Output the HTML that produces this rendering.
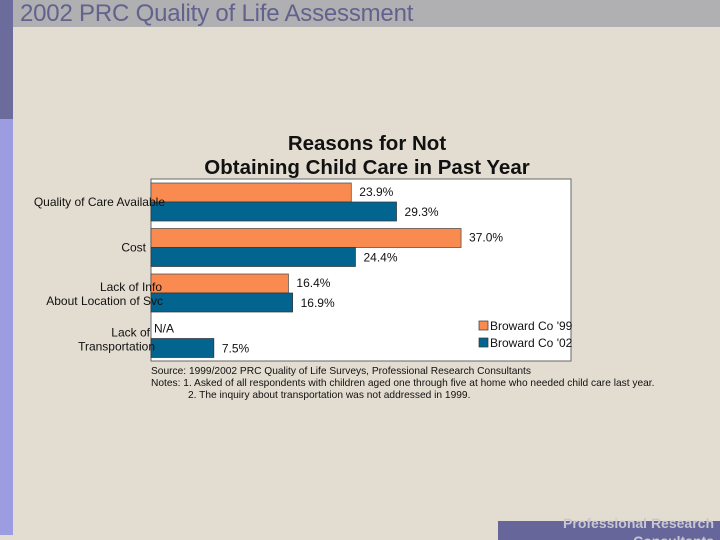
<!DOCTYPE html>
<html><head><meta charset="utf-8"><style>
html,body{margin:0;width:720px;height:540px;overflow:hidden}
body{background:#e3ddd1;font-family:"Liberation Sans",sans-serif;position:relative}
.abs{position:absolute}
</style></head><body>
<div class="abs" style="left:0;top:0;width:13px;height:119px;background:#6c6c9c"></div>
<div class="abs" style="left:0;top:119px;width:13px;height:416px;background:#9c9ce0"></div>
<div class="abs" style="left:13px;top:0;width:707px;height:27px;background:#b0afb2"></div>
<div class="abs" style="left:20px;top:0px;font-size:24px;line-height:28px;color:#62628e;letter-spacing:-0.2px">2002 PRC Quality of Life Assessment</div>
<div class="abs" style="left:498px;top:521px;width:222px;height:19px;background:#66669a"></div>
<div class="abs" style="left:498px;top:514px;width:216px;text-align:right;font-size:14px;font-weight:bold;color:#c9c7cf;line-height:18px">Professional Research<br>Consultants</div>
<svg class="abs" style="left:0;top:0" width="720" height="540">
<g id="g"></g>
</svg>
<script>
const categories=["Quality of Care Available","Cost","Lack of Info|About Location of Svc","Lack of|Transportation"];
const s99=[23.9,37.0,16.4,null];
const s02=[29.3,24.4,16.9,7.5];
const seriesNames=["Broward Co '99","Broward Co '02"];
const labelEnds=[[165],[146],[162,163],[150,155]];
const NS="http://www.w3.org/2000/svg";
const g=document.getElementById('g');
function mk(t,a,txt){const e=document.createElementNS(NS,t);for(const k in a)e.setAttribute(k,a[k]);if(txt!=null)e.textContent=txt;g.appendChild(e);return e;}
const x0=151,x1=571,y0=179,y1=361;
const xs=v=>x0+v*8.38;
const gy=i=>183+i*45.5;
const bh=19;
let e;
e=mk('text',{x:367,y:150,'text-anchor':'middle','font-size':20.5,'font-weight':'bold',fill:'#111'},'Reasons for Not');

e=mk('text',{x:367,y:174,'text-anchor':'middle','font-size':20.5,'font-weight':'bold',fill:'#111'},'Obtaining Child Care in Past Year');

e=mk('rect',{x:x0,y:y0,width:x1-x0,height:y1-y0,fill:'#fff',stroke:'#666','stroke-width':1});

categories.forEach((c,i)=>{
  const y=gy(i);
  if(s99[i]!=null){
    e=mk('rect',{x:x0,y:y,width:xs(s99[i])-x0,height:bh,fill:'#f98b50',stroke:'#444','stroke-width':0.7});
    
    e=mk('text',{x:xs(s99[i])+8,y:y+13,'font-size':12,fill:'#111'},s99[i].toFixed(1)+'%');
    
  } else {
    e=mk('text',{x:x0+3,y:y+13,'font-size':12,fill:'#111'},'N/A');
    
  }
  e=mk('rect',{x:x0,y:y+bh,width:xs(s02[i])-x0,height:bh,fill:'#046490',stroke:'#333','stroke-width':0.7});
  
  e=mk('text',{x:xs(s02[i])+8,y:y+bh+14,'font-size':12,fill:'#111'},s02[i].toFixed(1)+'%');
  
  const parts=c.split('|');
  parts.forEach((p,j)=>{
    const ly=parts.length==1?y+bh+4:y+bh-2+j*14;
    e=mk('text',{x:labelEnds[i][j],y:ly,'text-anchor':'end','font-size':12,fill:'#111','textLength':0});
    e.removeAttribute('textLength');
    e.textContent=p;
    
  });
});
seriesNames.forEach((n,i)=>{
  e=mk('rect',{x:479,y:321+i*17,width:9,height:9,fill:i?'#046490':'#f98b50',stroke:'#333','stroke-width':0.7});
  
  e=mk('text',{x:490,y:330+i*17,'font-size':12,fill:'#111'},n);
  
});
const notes=[[151,374,'Source: 1999/2002 PRC Quality of Life Surveys, Professional Research Consultants'],[151,386,'Notes:   1.  Asked of all respondents with children aged one through five at home who needed child care last year.'],[188,398,'2.  The inquiry about transportation was not addressed in 1999.']];
notes.forEach((n,i)=>{
  e=mk('text',{x:n[0],y:n[1],'font-size':10.2,fill:'#111'},n[2]);
  
  e.setAttribute('xml:space','preserve');
});
</script>
</body></html>
